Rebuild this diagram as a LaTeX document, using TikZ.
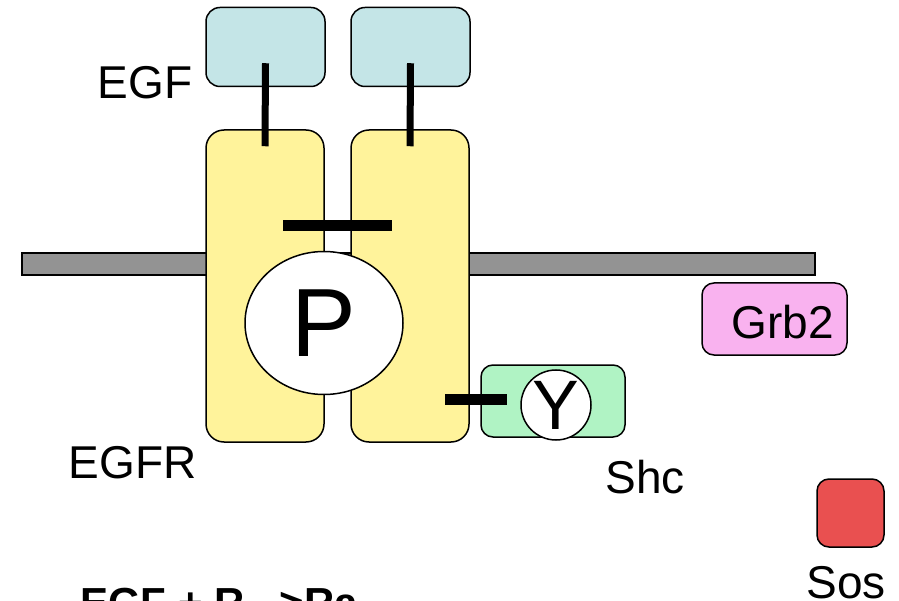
\documentclass[tikz,border=0pt]{standalone}
\usepackage{fontspec}
\setmainfont{Liberation Sans}
\usetikzlibrary{shapes.geometric,calc}
\definecolor{egfc}{HTML}{C4E5E7}
\definecolor{recc}{HTML}{FFF39B}
\definecolor{shcc}{HTML}{B0F3C4}
\definecolor{grbc}{HTML}{F9B2EF}
\definecolor{sosc}{HTML}{E95050}
\definecolor{memc}{HTML}{939393}
\tikzset{
  box/.style={draw=black, line width=1.5pt, rounded corners=14pt, inner sep=0pt},
  lbl/.style={inner sep=0pt, anchor=base, font=\fontsize{46}{50}\selectfont},
  bond/.style={line width=7pt, black},
}
\begin{document}
\begin{tikzpicture}[x=1pt,y=-1pt]
\useasboundingbox[fill=white] (0,0) rectangle (899,601);
% membrane
\node[draw=black, line width=1.5pt, fill=memc, inner sep=0pt, minimum width=793pt, minimum height=22pt] (mem) at (418.5,264) {};
% receptors
\node[box, rounded corners=18pt, fill=recc, minimum width=118pt, minimum height=312pt] (r1) at (265,286) {};
\node[box, rounded corners=18pt, fill=recc, minimum width=118pt, minimum height=312pt] (r2) at (410,286) {};
% EGF ligands
\node[box, fill=egfc, minimum width=119pt, minimum height=79pt] (egf1) at (265.5,47) {};
\node[box, fill=egfc, minimum width=119pt, minimum height=79pt] (egf2) at (410.5,47) {};
\draw[bond] ([yshift=24pt]egf1.south) -- ([yshift=-17pt]r1.north);
\draw[bond] ([yshift=24pt]egf2.south) -- ([yshift=-17pt]r2.north);
% dimer bar
\coordinate (barL) at (283,226);
\coordinate (barR) at (392,226);
\draw[line width=11pt] (barL) -- (barR);
% phosphate
\node[ellipse, draw=black, line width=1.5pt, fill=white, inner sep=0pt, minimum width=158pt, minimum height=143pt, font=\fontsize{97}{100}\selectfont] (P) at (324,323) {P};
% Shc
\node[box, rounded corners=12pt, fill=shcc, minimum width=144pt, minimum height=72pt] (shc) at (553,401) {};
\coordinate (tyr) at (445,399);
\node[circle, draw=black, line width=1.5pt, fill=white, inner sep=0pt, minimum size=70pt, font=\fontsize{70}{72}\selectfont] (Y) at (556,405) {Y};
\draw[line width=11pt] (tyr) -- ([xshift=27pt]shc.west |- tyr);
% Grb2
\node[box, rounded corners=12pt, fill=grbc, minimum width=145pt, minimum height=72pt] (grb) at (774.5,319) {};
\node[lbl] (grbt) at (783,338) {Grb2};
% Sos
\node[box, rounded corners=12pt, fill=sosc, minimum width=67pt, minimum height=68pt] (sos) at (850.5,513) {};
% labels
\node[lbl] (egfl) at (145,99) {EGF};
\node[lbl] (egfrl) at (132.5,478) {EGFR};
\node[lbl] (shcl) at (645,493) {Shc};
\node[lbl] (sosl) at (846,598) {Sos};
\node[inner sep=0pt, anchor=base west, font=\fontsize{42}{46}\selectfont\bfseries] (eq) at (80,617) {EGF + R –>Ra};
\end{tikzpicture}
\end{document}
